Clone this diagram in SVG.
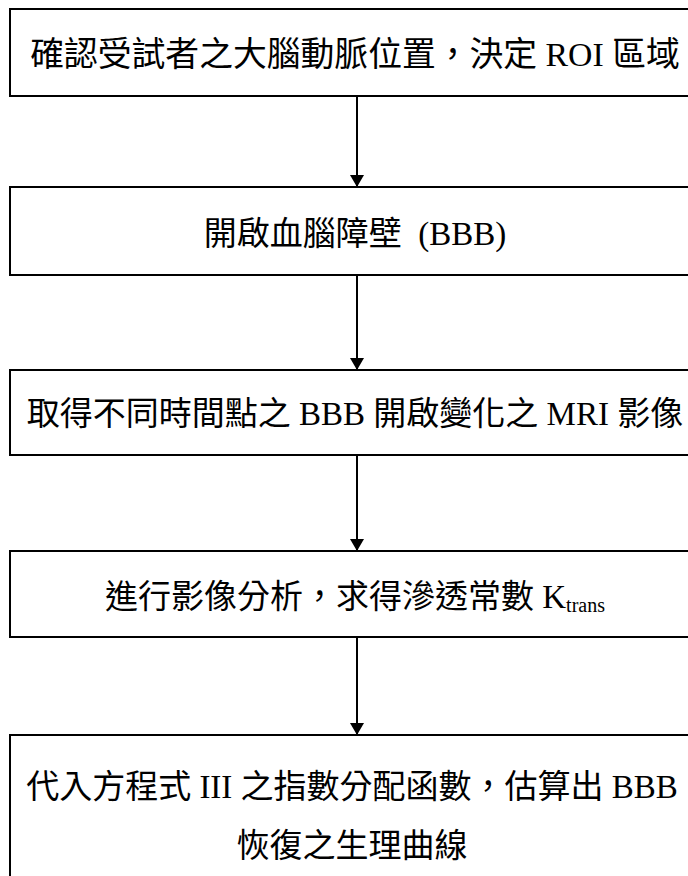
<svg xmlns="http://www.w3.org/2000/svg" width="688" height="876" viewBox="0 0 688 876">
<style>
.box{fill:#fff;stroke:#000;stroke-width:2}
.t{font-family:"Liberation Serif","Noto Sans CJK TC",serif;font-size:33px;fill:#000;text-anchor:middle}
.c{stroke:#000;stroke-width:2;fill:none}
.sub{font-size:20px}
</style>
<defs>
<marker id="ah" markerWidth="12" markerHeight="14" refX="12" refY="7" orient="auto" markerUnits="userSpaceOnUse">
<path d="M0,0 L12,7 L0,14 Z" fill="#000"/>
</marker>
</defs>
<rect width="688" height="876" fill="#fff"/>
<g id="n1"><rect class="box" x="10" y="9" width="700" height="87"/>
<text class="t" x="355" y="66" style="font-size:33.8px">確認受試者之大腦動脈位置，決定 ROI 區域</text></g>
<g id="n2"><rect class="box" x="10" y="187" width="700" height="88"/>
<text class="t" x="355" y="245">開啟血腦障壁&#160; (BBB)</text></g>
<g id="n3"><rect class="box" x="10" y="370" width="700" height="85"/>
<text class="t" x="355" y="425">取得不同時間點之 BBB 開啟變化之 MRI 影像</text></g>
<g id="n4"><rect class="box" x="10" y="551" width="700" height="86"/>
<text class="t" x="355" y="608">進行影像分析，求得滲透常數 K<tspan class="sub" dy="4">trans</tspan></text></g>
<g id="n5"><rect class="box" x="10" y="735" width="700" height="160"/>
<text class="t" x="352" y="798">代入方程式 III 之指數分配函數，估算出 BBB</text>
<text class="t" x="352" y="857">恢復之生理曲線</text></g>
<g id="connectors">
<line class="c" x1="357" y1="96" x2="357" y2="187" marker-end="url(#ah)"/>
<line class="c" x1="357" y1="275" x2="357" y2="370" marker-end="url(#ah)"/>
<line class="c" x1="357" y1="455" x2="357" y2="551" marker-end="url(#ah)"/>
<line class="c" x1="357" y1="637" x2="357" y2="735" marker-end="url(#ah)"/>
</g>
</svg>
